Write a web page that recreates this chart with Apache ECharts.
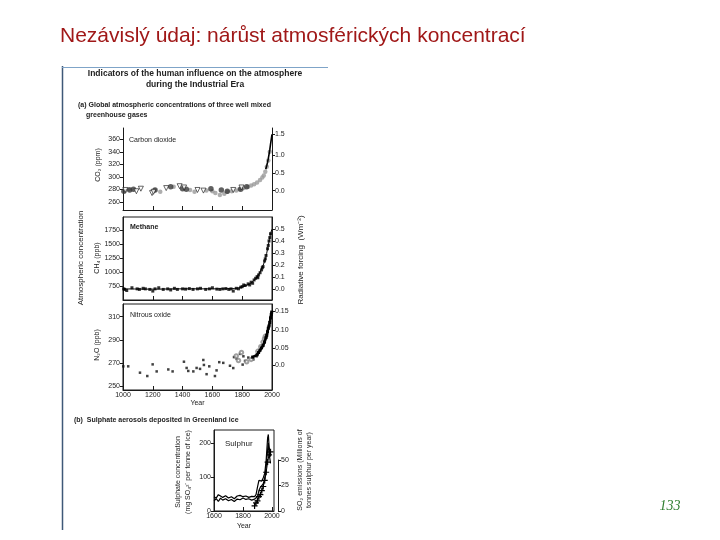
<!DOCTYPE html>
<html>
<head>
<meta charset="utf-8">
<script src="https://cdn.jsdelivr.net/npm/echarts@6/dist/echarts.min.js"></script>
<style>
html, body { margin: 0; padding: 0; background: #fff; }
#chart { width: 720px; height: 540px; }
</style>
</head>
<body>
<div id="chart"></div>
<script>
// ---- tick labels ----
const yearTicks = [1000, 1200, 1400, 1600, 1800, 2000];
const sulphurYearTicks = [1600, 1800, 2000];
const co2Ticks = [260, 280, 300, 320, 340, 360];
const co2ForcingTicks = [0, 0.5, 1.0, 1.5];
const ch4Ticks = [750, 1000, 1250, 1500, 1750];
const ch4ForcingTicks = [0, 0.1, 0.2, 0.3, 0.4, 0.5];
const n2oTicks = [250, 270, 290, 310];
const n2oForcingTicks = [0, 0.05, 0.10, 0.15];
const sulphateTicks = [0, 100, 200];
const so2Ticks = [0, 25, 50];

// ---- carbon dioxide (ppm) ----
const co2Circles = [[1006, 277], [1045, 279], [1070, 280], [1215, 279], [1320, 284], [1400, 281], [1425, 280],
  [1590, 281], [1660, 279], [1700, 277], [1790, 280], [1830, 284]];
const co2Triangles = [[1015, 279], [1090, 277], [1120, 281], [1195, 274], [1205, 276], [1290, 282], [1380, 285],
  [1410, 283], [1500, 279], [1540, 278], [1740, 279], [1795, 283]];
const co2Grey = [[1040, 280], [1210, 278], [1250, 276], [1340, 284], [1450, 279], [1480, 276], [1560, 278],
  [1600, 277], [1620, 274], [1650, 271], [1680, 273], [1700, 276], [1730, 277], [1760, 278], [1780, 280],
  [1810, 282], [1840, 284], [1860, 286], [1880, 288], [1900, 291], [1920, 295], [1935, 299], [1945, 302],
  [1955, 308], [1965, 316], [1975, 326], [1985, 340]];
const co2MaunaLoa = [[1958, 312], [1965, 318], [1970, 323], [1975, 329], [1980, 336], [1985, 343], [1990, 352],
  [1995, 360], [2000, 368]];

// ---- methane (ppb) ----
const ch4Points = [[1005, 700], [1012, 690], [1025, 670], [1060, 720], [1095, 700], [1110, 690], [1135, 710],
  [1150, 700], [1180, 690], [1200, 660], [1215, 700], [1240, 720], [1270, 690], [1300, 700], [1320, 680],
  [1345, 710], [1365, 690], [1400, 700], [1420, 695], [1445, 705], [1470, 690], [1500, 700], [1520, 710],
  [1555, 690], [1580, 700], [1600, 720], [1630, 695], [1650, 690], [1670, 700], [1690, 705], [1710, 690],
  [1725, 700], [1740, 660], [1760, 710], [1775, 700], [1790, 730], [1800, 740], [1810, 770], [1820, 760],
  [1840, 790], [1850, 770], [1860, 820], [1870, 800], [1880, 860], [1890, 890], [1900, 920], [1905, 900],
  [1910, 950], [1920, 990], [1930, 1040], [1935, 1080], [1940, 1100], [1950, 1200], [1955, 1240],
  [1960, 1300], [1970, 1420], [1975, 1480], [1980, 1560], [1985, 1620], [1990, 1690]];
const ch4Line = [[1000, 700], [1200, 695], [1400, 700], [1600, 700], [1750, 705], [1800, 735], [1850, 790],
  [1900, 910], [1950, 1190], [1975, 1480], [1990, 1690], [2000, 1770]];

// ---- nitrous oxide (ppb) ----
const n2oPoints = [[1002, 267], [1035, 267], [1114, 261.5], [1163, 258.6], [1199, 268.7], [1226, 262.6],
  [1304, 264.3], [1333, 262.6], [1409, 271], [1427, 265.6], [1438, 263], [1472, 262.6], [1494, 265.6],
  [1517, 264.8], [1539, 272.5], [1543, 268.2], [1561, 260.2], [1579, 267], [1617, 258.6], [1628, 263.5],
  [1646, 270.6], [1673, 270], [1718, 267.5], [1740, 265.5], [1745, 275], [1763, 273.5], [1785, 277.8],
  [1803, 268.5], [1808, 275.7], [1819, 271.7], [1841, 274.6], [1875, 273], [1897, 275.7]];
const n2oGrey = [[1760, 276], [1775, 272], [1795, 279], [1830, 271], [1860, 273], [1905, 280], [1925, 284],
  [1940, 288], [1950, 291], [1955, 293]];
const n2oRecent = [[1870, 275], [1900, 277], [1910, 279], [1920, 281], [1930, 283], [1940, 285], [1950, 288],
  [1960, 292], [1965, 294], [1970, 297], [1975, 300], [1980, 302], [1985, 305], [1990, 309], [1995, 312],
  [1998, 314]];

// ---- sulphate in Greenland ice (mg SO4 per tonne) and SO2 emissions (Mt S / yr) ----
const sulphateA = [[1600, 42], [1615, 38], [1630, 48], [1645, 44], [1660, 40], [1680, 45], [1700, 38],
  [1720, 42], [1740, 36], [1760, 44], [1780, 46], [1800, 42], [1820, 44], [1840, 40], [1860, 43], [1880, 42],
  [1890, 48], [1900, 70], [1910, 90], [1920, 95], [1930, 88], [1940, 98], [1950, 110], [1960, 150],
  [1970, 215], [1975, 225], [1980, 190], [1985, 175], [1990, 160]];
const sulphateB = [[1600, 30], [1615, 36], [1630, 28], [1645, 38], [1660, 32], [1680, 36], [1700, 30],
  [1720, 34], [1740, 28], [1760, 35], [1780, 33], [1800, 38], [1820, 34], [1840, 36], [1860, 32], [1880, 35],
  [1890, 35], [1900, 42], [1910, 60], [1920, 70], [1930, 75], [1940, 80], [1950, 95], [1960, 130],
  [1970, 180], [1975, 200], [1980, 170], [1990, 140]];
const so2Emissions = [[1880, 5], [1890, 8], [1900, 10], [1910, 14], [1920, 16], [1930, 20], [1940, 24],
  [1950, 30], [1960, 38], [1970, 48], [1980, 55], [1990, 58]];

// radiative forcing as a function of concentration
const co2FromForcing = f => 278 * Math.exp(f / 5.35);
const co2ToForcing = c => 5.35 * Math.log(c / 278);
const n2oFromForcing = f => Math.pow(Math.sqrt(268) + f / 0.11, 2);
const n2oToForcing = n => 0.11 * (Math.sqrt(n) - Math.sqrt(268));

const ink = '#1a1a1a';
const fontFamily = '"Liberation Sans", Arial, sans-serif';
const tickText = { fontFamily: fontFamily, fontSize: 7, color: '#222' };

function valueAxis(o) {
    return {
        type: 'value',
        gridIndex: o.grid,
        min: o.min,
        max: o.max,
        position: o.position,
        show: o.show !== false,
        axisLine: { show: true, onZero: false, lineStyle: { color: ink, width: 1 } },
        axisTick: { show: true, inside: !!o.inside, length: o.tickLen || 3, customValues: o.ticks, lineStyle: { color: ink } },
        axisLabel: Object.assign({
            show: o.labels !== false, customValues: o.ticks, margin: o.margin || 3,
            formatter: o.formatter || (v => String(v)),
        }, tickText),
        splitLine: { show: false },
        name: o.name,
        nameLocation: 'middle',
        nameGap: o.nameGap,
        nameTextStyle: { fontFamily: fontFamily, fontSize: 7, color: '#222' },
    };
}

function txt(text, x, y, size, opts) {
    opts = opts || {};
    return {
        type: 'text', x: x, y: y, rotation: opts.rotate ? Math.PI / 2 : 0, z: 100,
        style: {
            text: text, fill: opts.color || '#222', fontSize: size, fontFamily: opts.family || fontFamily,
            fontWeight: opts.bold ? 'bold' : 'normal', fontStyle: opts.italic ? 'italic' : 'normal',
            align: opts.align || 'left', verticalAlign: 'middle',
        },
    };
}

const boxGrid = { show: true, borderColor: ink, borderWidth: 1, backgroundColor: 'transparent' };

const option = {
    animation: false,
    backgroundColor: '#fff',
    grid: [
        { left: 123, top: 128, width: 149, height: 82, show: false },
        Object.assign({ left: 123, top: 217, width: 149, height: 83 }, boxGrid),
        Object.assign({ left: 123, top: 304, width: 149, height: 86 }, boxGrid),
        Object.assign({ left: 214, top: 430, width: 60, height: 81 }, boxGrid),
        { left: 277, top: 460, width: 1, height: 51, show: false },
    ],
    xAxis: [
        valueAxis({ grid: 0, min: 1000, max: 2000, ticks: yearTicks, inside: true, tickLen: 4, labels: false }),
        valueAxis({ grid: 1, min: 1000, max: 2000, ticks: yearTicks, inside: true, tickLen: 4, labels: false }),
        valueAxis({ grid: 2, min: 1000, max: 2000, ticks: yearTicks, inside: true, tickLen: 4, margin: 2, name: 'Year', nameGap: 8 }),
        valueAxis({ grid: 3, min: 1600, max: 2014, ticks: sulphurYearTicks, inside: true, tickLen: 4, margin: 2, name: 'Year', nameGap: 12 }),
        { type: 'value', gridIndex: 4, show: false, min: 0, max: 1 },
    ],
    yAxis: [
        valueAxis({ grid: 0, min: 247, max: 378, ticks: co2Ticks }),
        valueAxis({ grid: 0, min: 247, max: 378, position: 'right', ticks: co2ForcingTicks.map(co2FromForcing),
            formatter: v => co2ToForcing(v).toFixed(1) }),
        valueAxis({ grid: 1, min: 500, max: 1990, ticks: ch4Ticks }),
        valueAxis({ grid: 1, min: -0.0917, max: 0.6, position: 'right', ticks: ch4ForcingTicks,
            formatter: v => v.toFixed(1) }),
        valueAxis({ grid: 2, min: 246.5, max: 321, ticks: n2oTicks }),
        valueAxis({ grid: 2, min: 246.5, max: 321, position: 'right', ticks: n2oForcingTicks.map(n2oFromForcing),
            formatter: v => { const f = n2oToForcing(v); return f < 0.001 ? '0.0' : f.toFixed(2); } }),
        valueAxis({ grid: 3, min: 0, max: 238, ticks: sulphateTicks }),
        { type: 'value', gridIndex: 3, show: false, min: 0, max: 79.4 },
        valueAxis({ grid: 4, min: 0, max: 50, position: 'right', ticks: so2Ticks }),
    ],
    series: [
        // carbon dioxide
        { type: 'scatter', xAxisIndex: 0, yAxisIndex: 0, data: co2Grey, symbol: 'circle', symbolSize: 4.5,
          itemStyle: { color: '#9a9a9a' } },
        { type: 'scatter', xAxisIndex: 0, yAxisIndex: 0, data: co2Circles, symbol: 'circle', symbolSize: 5.5,
          itemStyle: { color: '#3a3a3a' } },
        { type: 'scatter', xAxisIndex: 0, yAxisIndex: 0, data: co2Triangles, symbol: 'path://M0,0L10,0L5,9Z', symbolSize: 5,
          itemStyle: { color: '#fff', borderColor: '#111', borderWidth: 0.8 } },
        { type: 'line', xAxisIndex: 0, yAxisIndex: 0, data: co2MaunaLoa, showSymbol: false, z: 5,
          lineStyle: { color: '#000', width: 1.6 } },
        // methane
        { type: 'line', xAxisIndex: 1, yAxisIndex: 2, data: ch4Line, showSymbol: false, smooth: 0.3,
          lineStyle: { color: '#000', width: 1 } },
        { type: 'scatter', xAxisIndex: 1, yAxisIndex: 2, data: ch4Points, symbol: 'rect', symbolSize: 3,
          itemStyle: { color: '#000' } },
        // nitrous oxide
        { type: 'scatter', xAxisIndex: 2, yAxisIndex: 4, data: n2oPoints, symbol: 'rect', symbolSize: 2.5,
          itemStyle: { color: '#111' } },
        { type: 'scatter', xAxisIndex: 2, yAxisIndex: 4, data: n2oGrey, symbol: 'emptyCircle', symbolSize: 3.5,
          itemStyle: { color: '#888' } },
        { type: 'line', xAxisIndex: 2, yAxisIndex: 4, data: n2oRecent, symbol: 'rect', symbolSize: 3,
          lineStyle: { color: '#000', width: 2.5 }, itemStyle: { color: '#000' } },
        // sulphate and SO2 emissions
        { type: 'line', xAxisIndex: 3, yAxisIndex: 6, data: sulphateA, showSymbol: false,
          lineStyle: { color: '#000', width: 1.2 } },
        { type: 'line', xAxisIndex: 3, yAxisIndex: 6, data: sulphateB, showSymbol: false,
          lineStyle: { color: '#000', width: 1.2 } },
        { type: 'line', xAxisIndex: 3, yAxisIndex: 7, data: so2Emissions,
          symbol: 'path://M4,0H6V4H10V6H6V10H4V6H0V4H4Z', symbolSize: 6,
          lineStyle: { color: '#000', width: 1 }, itemStyle: { color: '#000' } },
    ],
    graphic: [
        // slide frame
        { type: 'line', shape: { x1: 62.5, y1: 66, x2: 62.5, y2: 530 }, style: { stroke: '#3f5878', lineWidth: 1.5 } },
        { type: 'line', shape: { x1: 62, y1: 67.5, x2: 328, y2: 67.5 }, style: { stroke: '#7fa4c8', lineWidth: 1 } },
        // slide title and page number
        txt('Nezávislý údaj: nárůst atmosférických koncentrací', 60, 36, 21, { color: '#a01818' }),
        txt('133', 670, 506, 14, { color: '#2f7f2f', italic: true, align: 'center', family: '"Liberation Serif", serif' }),
        // figure headings
        txt('Indicators of the human influence on the atmosphere', 195, 74, 8.5, { bold: true, align: 'center' }),
        txt('during the Industrial Era', 195, 85, 8.5, { bold: true, align: 'center' }),
        txt('(a) Global atmospheric concentrations of three well mixed', 78, 105, 7, { bold: true }),
        txt('greenhouse gases', 86, 115, 7, { bold: true }),
        txt('(b)  Sulphate aerosols deposited in Greenland ice', 74, 420, 7, { bold: true }),
        // panel labels
        txt('Carbon dioxide', 129, 140, 7),
        txt('Methane', 130, 227, 7, { bold: true }),
        txt('Nitrous oxide', 130, 315, 7),
        txt('Sulphur', 225, 444, 8),
        // axis names
        txt('Atmospheric concentration', 81, 258, 8, { rotate: true, align: 'center' }),
        txt('CO₂ (ppm)', 98, 165, 7, { rotate: true, align: 'center' }),
        txt('CH₄ (ppb)', 97, 258, 7, { rotate: true, align: 'center' }),
        txt('N₂O (ppb)', 97, 345, 7, { rotate: true, align: 'center' }),
        txt('Radiative forcing  (Wm⁻²)', 301, 260, 8, { rotate: true, align: 'center' }),
        txt('Sulphate concentration', 178, 472, 7, { rotate: true, align: 'center' }),
        txt('(mg SO₄²⁻ per tonne of ice)', 188, 472, 7, { rotate: true, align: 'center' }),
        txt('SO₂ emissions (Millions of', 300, 470, 7, { rotate: true, align: 'center' }),
        txt('tonnes sulphur per year)', 309, 470, 7, { rotate: true, align: 'center' }),
    ],
};

const myChart = echarts.init(document.getElementById('chart'));
myChart.setOption(option);
</script>
</body>
</html>
